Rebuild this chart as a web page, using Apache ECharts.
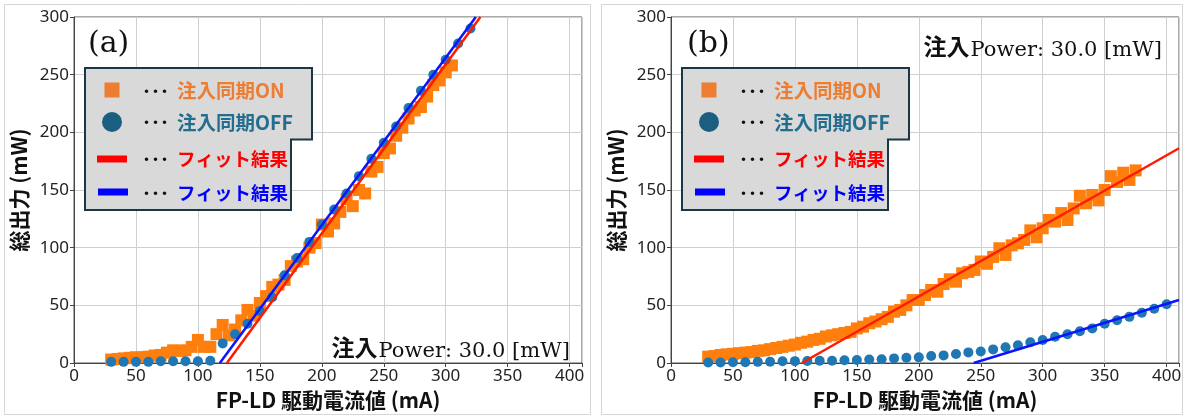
<!DOCTYPE html>
<html>
<head>
<meta charset="utf-8">
<script src="https://cdn.jsdelivr.net/npm/echarts@6/dist/echarts.min.js"></script>
<style>
html,body{margin:0;padding:0;background:#fff;}
#chart{width:1186px;height:418px;}
</style>
</head>
<body>
<div id="chart"></div>
<script>
// ---------- Data ----------
// Panel (a)
const currentOnA = [30,35,40,45,50,55,60,65,70,75,80,85,90,95,100,105,110,115,120,125,130,135,140,145,150,155,160,165,170,175,180,185,190,195,200,205,210,215,220,225,230,235,240,245,250,255,260,265,270,275,280,285,290,295,300,305];
const powerOnA   = [3,3.5,4,4.5,5,5,5.5,6.5,7,9,11,10.5,11,14,20,14,14,25,33,24,29,37,46,41,52,58,66,68,72,84,88,90,100,104,120,114,121,131,142,136,150,147,166,170,182,186,197,204,212,219,222,231,241,245,252,258];
const currentOffA = [30,40,50,60,70,80,90,100,110,120,130,140,150,160,170,180,190,200,210,220,230,240,250,260,270,280,290,300,310,320];
const powerOffA   = [1,1,1,1,1.5,1.5,1.5,1.5,2,17,25,34,45,57,76,91,105,120,133,147,162,177,191,205,221,236,250,263,277,290];
const fitOnA  = [[123.4,0],[328,300]];
const fitOffA = [[117.7,0],[324.3,300]];

// Panel (b)
const currentOnB = [30,35,40,45,50,55,60,65,70,75,80,85,90,95,100,105,110,115,120,125,130,135,140,145,150,155,160,165,170,175,180,185,190,195,200,205,210,215,220,225,230,235,240,245,250,255,260,265,270,275,280,285,290,295,300,305,310,315,320,325,330,335,340,345,350,355,360,365,370,375];
const powerOnB   = [5.5,6,7,7.5,8,8.5,9,9.5,10.5,11,12,13,14,15,16,17.5,18.5,20,21,23,24,25,26,27,30,31.5,34.5,36,38,40,44.5,46,50,54.6,54.6,59,63.3,61.8,68.5,72.6,70.5,77.8,79,80.7,88,86,92,99.5,93.7,102,103.8,106.7,115,109,116.8,124,122.6,130,124,134,145,138.5,145.7,141,150,162,157,165,158.7,167];
const currentOffB = [30,40,50,60,70,80,90,100,110,120,130,140,150,160,170,180,190,200,210,220,230,240,250,260,270,280,290,300,310,320,330,340,350,360,370,380,390,400];
const powerOffB   = [0.5,0.5,0.6,0.7,1,1.1,1.5,1.6,1.7,2,2,2.4,2.6,3,3.2,4,4.6,4.9,6,6.6,7.8,9.2,10,11.8,13.6,15.3,18,20,22.8,25,27.5,30,34,37,40,43.6,47,51];
const fitOnB  = [[105.6,0],[410,186.2]];
const fitOffB = [[244.3,0],[410,54.6]];

// Axis ticks
const xTickValues = [0,50,100,150,200,250,300,350,400];
const yTickValues = [0,50,100,150,200,250,300];

// Texts
const xTitle = 'FP-LD 駆動電流値 (mA)';
const yTitle = '総出力 (mW)';
const legendLabels = ['注入同期ON','注入同期OFF','フィット結果','フィット結果'];
const panelLabels = ['(a)','(b)'];
const noteCJK = '注入';
const noteLatin = 'Power: 30.0 [mW]';

// ---------- Helpers ----------
const zip = (xs, ys) => xs.map((x, i) => [x, ys[i]]);
const CJK = '"Noto Sans CJK JP", "Noto Sans", sans-serif';
const SERIF = '"DejaVu Serif", serif';
const ORANGE = '#ff7f0e', BLUE = '#1f77b4';

const grids = [
  {left:74, top:17, width:508, height:346, show:true, borderColor:'#555', borderWidth:1, backgroundColor:'transparent'},
  {left:671, top:17, width:508, height:346, show:true, borderColor:'#555', borderWidth:1, backgroundColor:'transparent'}
];

function xAxis(i){
  return {
    type:'value', gridIndex:i, min:0, max:410, interval:50,
    name:xTitle, nameLocation:'middle', nameGap:22,
    nameTextStyle:{fontFamily:CJK, fontSize:21, fontWeight:'bold', color:'#111'},
    axisLine:{show:true, lineStyle:{color:'#444', width:1}},
    axisTick:{show:true, length:4, lineStyle:{color:'#444'}},
    axisLabel:{margin:5, fontFamily:'"Noto Sans", sans-serif', fontSize:17, color:'#222',
      formatter: v => xTickValues.includes(v) ? String(v) : ''},
    splitLine:{show:true, lineStyle:{color:'#cfcfcf', width:1}}
  };
}
function yAxis(i){
  return {
    type:'value', gridIndex:i, min:0, max:300, interval:50,
    name:yTitle, nameLocation:'middle', nameGap:44,
    nameTextStyle:{fontFamily:CJK, fontSize:21, fontWeight:'bold', color:'#111'},
    axisLine:{show:true, lineStyle:{color:'#444', width:1}},
    axisTick:{show:true, length:4, lineStyle:{color:'#444'}},
    axisLabel:{margin:5, fontFamily:'"Noto Sans", sans-serif', fontSize:17, color:'#222',
      formatter: v => yTickValues.includes(v) ? String(v) : ''},
    splitLine:{show:true, lineStyle:{color:'#cfcfcf', width:1}}
  };
}

function seriesFor(i, on, off, fOn, fOff){
  return [
    {type:'scatter', xAxisIndex:i, yAxisIndex:i, data:on, symbol:'rect', symbolSize:12,
      itemStyle:{color:ORANGE, opacity:1}, z:2},
    {type:'scatter', xAxisIndex:i, yAxisIndex:i, data:off, symbol:'circle', symbolSize:10,
      itemStyle:{color:BLUE, opacity:1}, z:3},
    {type:'line', xAxisIndex:i, yAxisIndex:i, data:fOn, showSymbol:false, symbol:'none', clip:true,
      lineStyle:{color:'#ff1a00', width:2.5}, z:4},
    {type:'line', xAxisIndex:i, yAxisIndex:i, data:fOff, showSymbol:false, symbol:'none', clip:true,
      lineStyle:{color:'#0a14ff', width:2.5}, z:5}
  ];
}

function legendGraphic(dx){
  const L = 85 + dx;
  const els = [];
  els.push({type:'polygon', z:100, shape:{points:[[L,68],[L+227,68],[L+227,139.5],[L+206,139.5],[L+206,210],[L,210]]},
    style:{fill:'#d9d9d9', stroke:'#1b3644', lineWidth:2}});
  els.push({type:'rect', z:101, shape:{x:L+19.5, y:82.5, width:15, height:15}, style:{fill:'#ed7d31'}});
  els.push({type:'circle', z:101, shape:{cx:L+27, cy:122, r:10}, style:{fill:'#1a5e80'}});
  els.push({type:'rect', z:101, shape:{x:L+12, y:155.5, width:30, height:7}, style:{fill:'#ff0000'}});
  els.push({type:'rect', z:101, shape:{x:L+13, y:188.5, width:30, height:7}, style:{fill:'#0000ff'}});
  const rows = [91, 122.5, 159, 193];
  const cols = ['#ed7d31','#236e8e','#ff0000','#0000ff'];
  const sizes = [19.5, 19.5, 18.5, 18.5];
  rows.forEach((y, k) => {
    els.push({type:'text', z:102, x:L+57, y:y, style:{text:'･･･', font:'bold 18px ' + CJK, fill:'#111',
      textAlign:'left', textVerticalAlign:'middle'}});
    els.push({type:'text', z:102, x:L+92, y:y, style:{text:legendLabels[k], font:'bold ' + sizes[k] + 'px ' + CJK, fill:cols[k],
      textAlign:'left', textVerticalAlign:'middle'}});
  });
  return els;
}

// measure the Latin part so that the two parts of the note sit side by side
const measureCtx = document.createElement('canvas').getContext('2d');
function textWidth(str, font){ measureCtx.font = font; return measureCtx.measureText(str).width; }

function noteGraphic(xRight, yBase){
  const latinFont = '21px ' + SERIF;
  const cjkFont = 'bold 23px ' + CJK;
  const wLatin = textWidth(noteLatin, latinFont);
  return [
    {type:'text', z:50, x:xRight, y:yBase + 4, style:{text:noteLatin, font:latinFont, fill:'#111',
      textAlign:'right', textVerticalAlign:'bottom'}},
    {type:'text', z:50, x:xRight - wLatin - 1, y:yBase + 1, style:{text:noteCJK, font:cjkFont, fill:'#111',
      textAlign:'right', textVerticalAlign:'bottom'}}
  ];
}

const graphic = [
  {type:'rect', z:-10, shape:{x:4.5, y:4.5, width:586, height:410}, style:{fill:'none', stroke:'#d6d6d6', lineWidth:1}},
  {type:'rect', z:-10, shape:{x:601.5, y:4.5, width:581, height:410}, style:{fill:'none', stroke:'#d6d6d6', lineWidth:1}},
  {type:'text', z:50, x:88, y:44, style:{text:panelLabels[0], font:'30px ' + SERIF, fill:'#111', textAlign:'left', textVerticalAlign:'middle'}},
  {type:'text', z:50, x:687, y:44, style:{text:panelLabels[1], font:'30px ' + SERIF, fill:'#111', textAlign:'left', textVerticalAlign:'middle'}},
  ...noteGraphic(570, 358),
  ...noteGraphic(1162, 57),
  ...legendGraphic(0),
  ...legendGraphic(597)
];

const chart = echarts.init(document.getElementById('chart'), null, {renderer:'canvas'});
chart.setOption({
  animation:false,
  backgroundColor:'#fff',
  grid:grids,
  xAxis:[xAxis(0), xAxis(1)],
  yAxis:[yAxis(0), yAxis(1)],
  series:[
    ...seriesFor(0, zip(currentOnA, powerOnA), zip(currentOffA, powerOffA), fitOnA, fitOffA),
    ...seriesFor(1, zip(currentOnB, powerOnB), zip(currentOffB, powerOffB), fitOnB, fitOffB)
  ],
  graphic:graphic
});
</script>
</body>
</html>
